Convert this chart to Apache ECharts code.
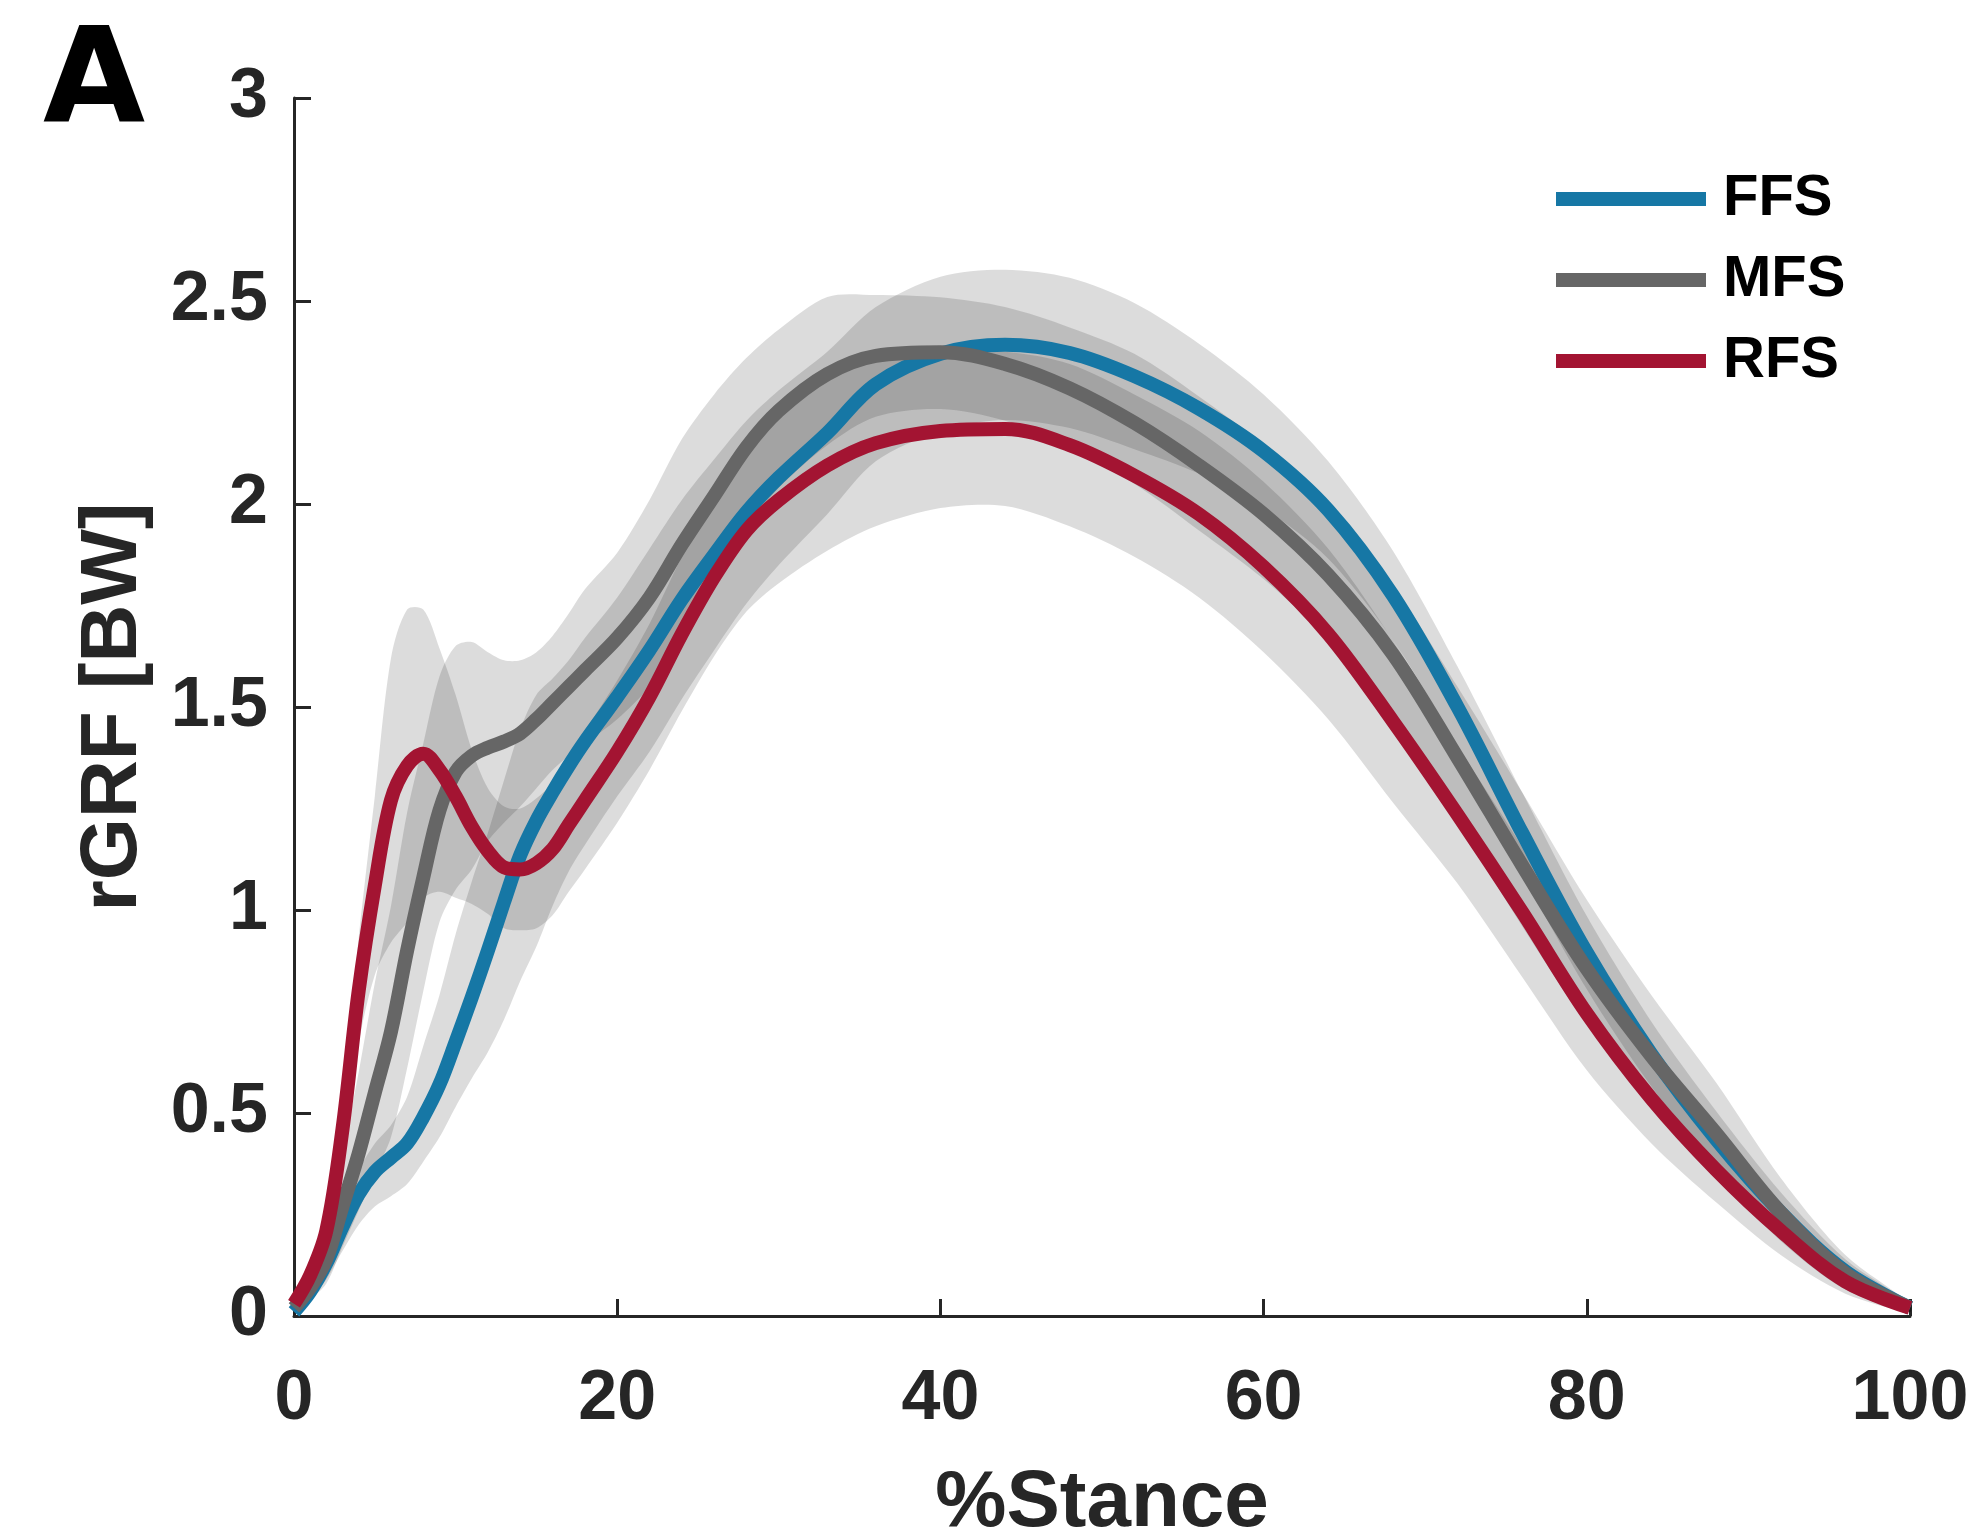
<!DOCTYPE html>
<html><head><meta charset="utf-8">
<script src="https://cdn.jsdelivr.net/npm/echarts@6/dist/echarts.min.js"></script>
<style>html,body{margin:0;padding:0;background:#fff}#chart{width:1973px;height:1539px}</style>
</head><body><div id="chart"></div>
<script>
// % stance sample points
const stance = [0,1,2,3,4,5,6,7,8,9,10,11,12,13,14,15,16,17,18,20,22,24,26,28,30,33,36,40,44,48,52,56,60,64,68,72,76,80,84,88,92,96,100];

// FFS (fore-foot strike)
const ffsMean  = [0.01,0.06,0.13,0.22,0.30,0.355,0.39,0.425,0.49,0.57,0.675,0.785,0.90,1.02,1.135,1.22,1.29,1.355,1.415,1.525,1.64,1.765,1.875,1.98,2.065,2.175,2.295,2.37,2.392,2.372,2.315,2.235,2.13,1.985,1.775,1.50,1.19,0.895,0.645,0.435,0.255,0.11,0.02];
const ffsLower = [0.00,0.04,0.09,0.16,0.225,0.27,0.295,0.325,0.38,0.44,0.515,0.585,0.65,0.73,0.825,0.91,1.01,1.095,1.16,1.28,1.39,1.52,1.64,1.755,1.85,1.975,2.105,2.18,2.207,2.187,2.135,2.075,1.99,1.865,1.665,1.40,1.09,0.805,0.565,0.365,0.205,0.08,0.01];
const ffsUpper = [0.02,0.08,0.17,0.27,0.36,0.425,0.47,0.54,0.665,0.79,0.94,1.07,1.19,1.32,1.445,1.53,1.57,1.615,1.67,1.77,1.89,2.01,2.11,2.205,2.28,2.375,2.485,2.56,2.577,2.557,2.495,2.395,2.27,2.105,1.885,1.60,1.29,0.985,0.725,0.505,0.305,0.14,0.03];

// MFS (mid-foot strike)
const mfsMean  = [0.02,0.07,0.14,0.27,0.40,0.55,0.70,0.90,1.08,1.245,1.34,1.38,1.40,1.415,1.435,1.47,1.51,1.55,1.59,1.67,1.77,1.90,2.02,2.14,2.23,2.32,2.365,2.374,2.345,2.285,2.20,2.095,1.975,1.825,1.63,1.375,1.11,0.855,0.64,0.45,0.255,0.105,0.02];
const mfsLower = [0.01,0.04,0.08,0.17,0.26,0.35,0.44,0.61,0.80,0.97,1.05,1.10,1.17,1.215,1.255,1.30,1.345,1.38,1.41,1.47,1.55,1.67,1.80,1.94,2.04,2.145,2.215,2.234,2.205,2.14,2.05,1.935,1.815,1.665,1.47,1.22,0.96,0.72,0.52,0.35,0.185,0.065,0.01];
const mfsUpper = [0.03,0.10,0.21,0.40,0.60,0.82,1.01,1.24,1.41,1.575,1.65,1.66,1.635,1.615,1.615,1.635,1.675,1.73,1.79,1.88,2.01,2.16,2.27,2.36,2.43,2.51,2.515,2.509,2.485,2.435,2.37,2.265,2.145,1.995,1.80,1.55,1.29,1.025,0.79,0.575,0.34,0.15,0.03];

// RFS (rear-foot strike)
const rfsMean  = [0.03,0.10,0.21,0.46,0.80,1.06,1.27,1.355,1.385,1.345,1.28,1.205,1.145,1.105,1.10,1.115,1.15,1.21,1.27,1.39,1.525,1.68,1.82,1.935,2.01,2.095,2.15,2.18,2.185,2.145,2.07,1.975,1.845,1.68,1.465,1.235,0.995,0.745,0.535,0.36,0.21,0.085,0.02];
const rfsLower = [0.02,0.08,0.16,0.38,0.67,0.84,0.92,0.97,1.03,1.045,1.03,1.015,0.99,0.955,0.95,0.955,0.987,1.045,1.10,1.215,1.345,1.49,1.625,1.735,1.805,1.885,1.945,1.99,1.995,1.945,1.87,1.77,1.635,1.47,1.265,1.065,0.835,0.605,0.425,0.28,0.15,0.055,0.01];
const rfsUpper = [0.04,0.12,0.26,0.54,0.93,1.28,1.62,1.74,1.74,1.645,1.53,1.395,1.30,1.255,1.25,1.275,1.313,1.375,1.44,1.565,1.705,1.87,2.015,2.135,2.215,2.305,2.355,2.37,2.375,2.345,2.27,2.18,2.055,1.89,1.665,1.405,1.155,0.885,0.645,0.44,0.27,0.115,0.03];

const groups = ['FFS','MFS','RFS'];
const lineColors = ['#1677A5','#666666','#A31432'];
const bandFill = 'rgba(0,0,0,0.137)';
const FONT = 'Liberation Sans';

const groupData = [
  {mean: ffsMean, lower: ffsLower, upper: ffsUpper},
  {mean: mfsMean, lower: mfsLower, upper: mfsUpper},
  {mean: rfsMean, lower: rfsLower, upper: rfsUpper}
];

function bandRenderer(lower, upper) {
  return function (params, api) {
    if (params.dataIndex !== 0) return null;
    const pts = [];
    for (let k = 0; k < stance.length; k++) pts.push(api.coord([stance[k], upper[k]]));
    for (let k = stance.length - 1; k >= 0; k--) pts.push(api.coord([stance[k], lower[k]]));
    return {
      type: 'polygon',
      shape: {points: pts, smooth: 0.3},
      style: {fill: bandFill, stroke: null},
      silent: true
    };
  };
}

const SMOOTH = 0.35;
const series = [];
groupData.forEach((g, i) => {
  series.push({
    name: groups[i] + ' band', type: 'custom',
    data: stance.map((x, k) => [x, g.lower[k], g.upper[k]]),
    encode: {x: 0, y: [1, 2]},
    renderItem: bandRenderer(g.lower, g.upper),
    silent: true, z: 1
  });
});
groupData.forEach((g, i) => {
  series.push({
    name: groups[i], type: 'line',
    data: stance.map((x, k) => [x, g.mean[k]]),
    symbol: 'none', smooth: SMOOTH,
    lineStyle: {width: 14, color: lineColors[i], cap: 'butt', join: 'round'},
    itemStyle: {color: lineColors[i]}, z: 5 + i
  });
});

const axisColor = '#262626';
const chart = echarts.init(document.getElementById('chart'), null, {renderer: 'canvas'});
chart.setOption({
  animation: false,
  backgroundColor: '#ffffff',
  textStyle: {fontFamily: FONT},
  title: {
    text: 'A', left: 38, top: 17,
    textStyle: {fontSize: 132, fontWeight: 'bold', color: '#000', fontFamily: 'DejaVu Sans'}
  },
  legend: {
    data: groups, orient: 'vertical', left: 1551, top: 165,
    icon: 'rect', itemWidth: 150, itemHeight: 14, itemGap: 23,
    textStyle: {fontSize: 58, fontWeight: 'bold', color: '#000', fontFamily: FONT, lineHeight: 58, padding: [0,0,0,12]}
  },
  grid: {left: 294, right: 63, top: 98, bottom: 223, containLabel: false, outerBoundsMode: 'none'},
  xAxis: {
    type: 'value', min: 0, max: 100, interval: 20,
    name: '%Stance', nameLocation: 'middle', nameGap: 148,
    nameTextStyle: {fontSize: 80, fontWeight: 'bold', color: axisColor, fontFamily: FONT},
    axisLine: {show: true, lineStyle: {color: axisColor, width: 3}},
    axisTick: {show: true, inside: true, length: 17, lineStyle: {color: axisColor, width: 3}},
    axisLabel: {fontSize: 70, fontWeight: 'bold', color: axisColor, margin: 49, fontFamily: FONT},
    splitLine: {show: false}
  },
  yAxis: {
    type: 'value', min: 0, max: 3, interval: 0.5,
    name: 'rGRF [BW]', nameLocation: 'middle', nameGap: 140,
    nameTextStyle: {fontSize: 80, fontWeight: 'bold', color: axisColor, fontFamily: FONT},
    axisLine: {show: true, lineStyle: {color: axisColor, width: 3}},
    axisTick: {show: true, inside: true, length: 17, lineStyle: {color: axisColor, width: 3}},
    axisLabel: {fontSize: 70, fontWeight: 'bold', color: axisColor, margin: 26, fontFamily: FONT},
    splitLine: {show: false}
  },
  series: series
});
</script></body></html>
